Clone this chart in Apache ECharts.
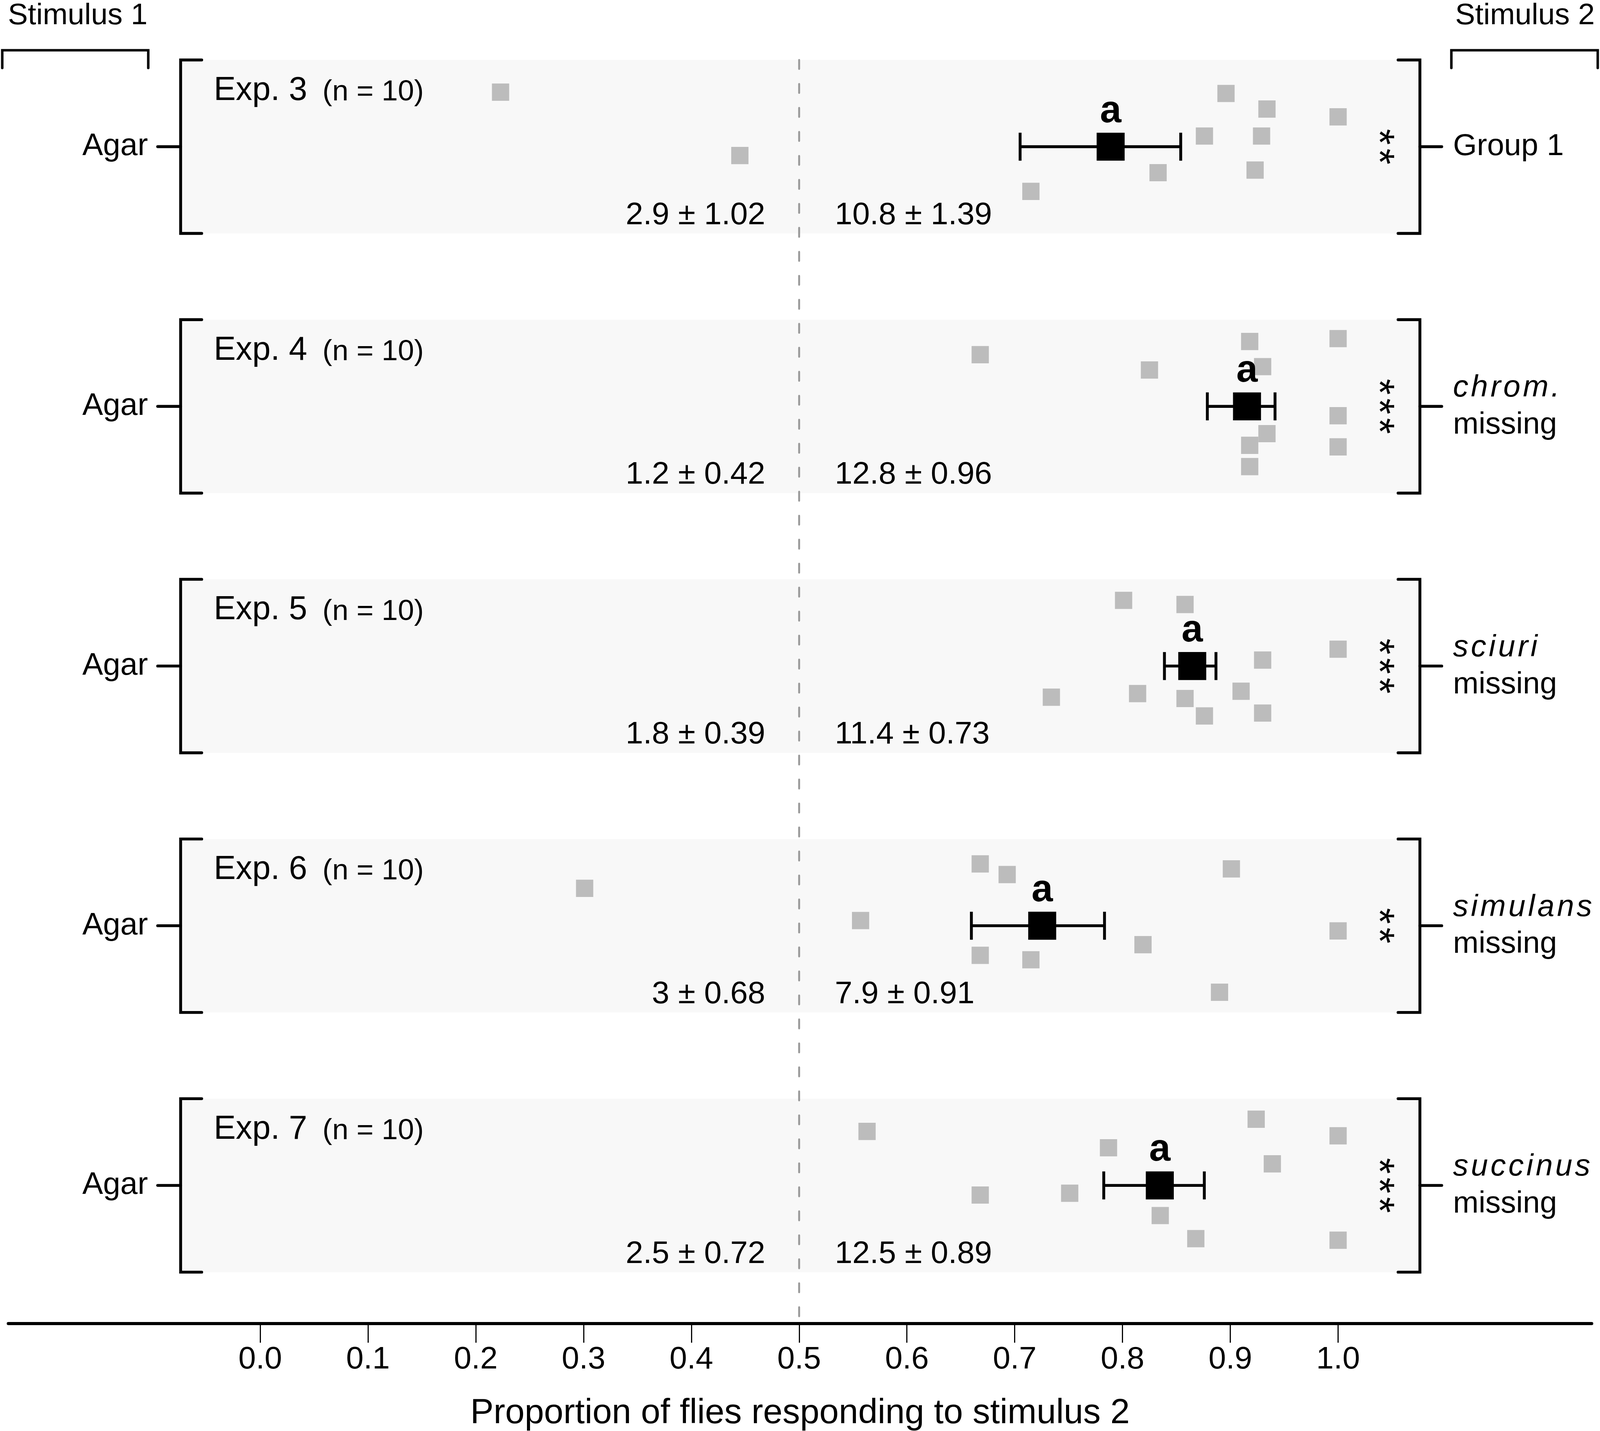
<!DOCTYPE html>
<html>
<head>
<meta charset="utf-8">
<title>Proportion of flies responding to stimulus 2</title>
<script src="https://cdn.jsdelivr.net/npm/echarts@6/dist/echarts.min.js"></script>
<style>
  html, body { margin: 0; padding: 0; background: #fff; overflow: hidden; }
  #chart { width: 100vw; height: 100vh; }
</style>
</head>
<body>
<div id="chart"></div>
<script>
// one panel per experiment, top to bottom
var expLabels = ['Exp. 3', 'Exp. 4', 'Exp. 5', 'Exp. 6', 'Exp. 7'];
var nLabels = ['(n = 10)', '(n = 10)', '(n = 10)', '(n = 10)', '(n = 10)'];
var stim1Labels = ['Agar', 'Agar', 'Agar', 'Agar', 'Agar'];
var stim2Line1 = ['Group 1', 'chrom.', 'sciuri', 'simulans', 'succinus'];
var stim2Line2 = ['', 'missing', 'missing', 'missing', 'missing'];
var stim2Italic = [false, true, true, true, true];
var stars = ['**', '***', '***', '**', '***'];
var letters = ['a', 'a', 'a', 'a', 'a'];
var countStim1 = ['2.9 \u00b1 1.02', '1.2 \u00b1 0.42', '1.8 \u00b1 0.39', '3 \u00b1 0.68', '2.5 \u00b1 0.72'];
var countStim2 = ['10.8 \u00b1 1.39', '12.8 \u00b1 0.96', '11.4 \u00b1 0.73', '7.9 \u00b1 0.91', '12.5 \u00b1 0.89'];

// mean proportion and error bar ends
var meanValues = [0.789, 0.9155, 0.8647, 0.7255, 0.8346];
var errLow = [0.705, 0.8787, 0.8389, 0.6598, 0.7826];
var errHigh = [0.854, 0.9415, 0.8867, 0.7833, 0.8759];

// single replicates: proportion and vertical jitter (panel units)
var exp3X = [0.223, 0.445, 0.896, 0.934, 1.0, 0.876, 0.929, 0.923, 0.833, 0.715];
var exp3Y = [-0.210, 0.034, -0.205, -0.145, -0.115, -0.041, -0.041, 0.090, 0.100, 0.172];
var exp4X = [0.668, 0.825, 0.918, 1.0, 0.930, 1.0, 0.934, 0.918, 1.0, 0.918];
var exp4Y = [-0.199, -0.140, -0.250, -0.261, -0.153, 0.036, 0.105, 0.150, 0.156, 0.232];
var exp5X = [0.801, 0.858, 1.0, 0.930, 0.734, 0.814, 0.858, 0.910, 0.876, 0.930];
var exp5Y = [-0.253, -0.237, -0.065, -0.023, 0.120, 0.106, 0.125, 0.097, 0.192, 0.181];
var exp6X = [0.301, 0.668, 0.693, 0.901, 0.557, 1.0, 0.819, 0.668, 0.715, 0.890];
var exp6Y = [-0.144, -0.238, -0.197, -0.219, -0.020, 0.020, 0.073, 0.114, 0.131, 0.256];
var exp7X = [0.563, 0.924, 1.0, 0.787, 0.939, 0.668, 0.751, 0.835, 0.868, 1.0];
var exp7Y = [-0.208, -0.255, -0.191, -0.145, -0.083, 0.037, 0.030, 0.116, 0.205, 0.211];

var tickValues = [0, 0.1, 0.2, 0.3, 0.4, 0.5, 0.6, 0.7, 0.8, 0.9, 1.0];
var chanceLevel = 0.5;
var stimulusLabels = ['Stimulus 1', 'Stimulus 2'];
var xTitle = 'Proportion of flies responding to stimulus 2';

// layout (designed on a 4252 x 3663 page, scaled to the real one)
var FONT = '"Liberation Sans", Arial, Helvetica, sans-serif';
var X_MIN = -0.2337, X_MAX = 1.2353;
var Y_MIN = -0.334, Y_MAX = 4.532;
var PANEL_HALF = 0.334;
var PANEL_LEFT = -0.0738, PANEL_RIGHT = 1.0759;

var chart = echarts.init(document.getElementById('chart'));
var sx = chart.getWidth() / 4252;
var sy = chart.getHeight() / 3663;
var fs = (sx + sy) / 2;
function X(v) { return v * sx; }
function Y(v) { return v * sy; }
function F(v) { return v * fs; }
var LW = F(7.5);

var pointsX = [exp3X, exp4X, exp5X, exp6X, exp7X];
var pointsY = [exp3Y, exp4Y, exp5Y, exp6Y, exp7Y];
var pointData = [];
pointsX.forEach(function (xs, i) {
  xs.forEach(function (x, k) {
    pointData.push([x, i + pointsY[i][k]]);
  });
});

var panelData = expLabels.map(function (d, i) { return [chanceLevel, i]; });
var meanData = meanValues.map(function (m, i) { return [m, i, errLow[i], errHigh[i]]; });

function stroke(w, cap) {
  return { stroke: '#000', lineWidth: w || LW, lineCap: cap || 'round', lineJoin: 'miter', fill: null };
}

function txt(text, x, y, size, align, extra) {
  var s = {
    text: text, x: x, y: y, fill: '#000', fontSize: F(size), fontFamily: FONT,
    align: align, verticalAlign: 'middle'
  };
  for (var k in (extra || {})) s[k] = extra[k];
  return { type: 'text', style: s };
}

function spaced(s) {
  return s.split('').join('\u200a');
}

function renderPanel(params, api) {
  var i = api.value(1);
  var c = api.coord([0, i])[1];
  var top = api.coord([0, i - PANEL_HALF])[1];
  var bottom = api.coord([0, i + PANEL_HALF])[1];
  var xL = api.coord([PANEL_LEFT, i])[0];
  var xR = api.coord([PANEL_RIGHT, i])[0];
  var xMid = api.coord([chanceLevel, i])[0];
  var kids = [
    { type: 'rect', shape: { x: xL, y: top, width: xR - xL, height: bottom - top }, style: { fill: '#f8f8f8' } },
    { type: 'polyline', shape: { points: [[xL + X(56), top], [xL, top], [xL, bottom], [xL + X(56), bottom]] }, style: stroke() },
    { type: 'line', shape: { x1: xL - X(61), y1: c, x2: xL, y2: c }, style: stroke() },
    { type: 'polyline', shape: { points: [[xR - X(58), top], [xR, top], [xR, bottom], [xR - X(58), bottom]] }, style: stroke() },
    { type: 'line', shape: { x1: xR, y1: c, x2: xR + X(58), y2: c }, style: stroke() },
    txt(stim1Labels[i], xL - X(87), c, 81, 'right'),
    txt(expLabels[i], xL + X(88), c - Y(143), 86, 'left'),
    txt(nLabels[i], xL + X(377), c - Y(139), 76, 'left'),
    txt(countStim1[i], xMid - X(90), c + Y(176), 82, 'right'),
    txt(countStim2[i], xMid + X(95), c + Y(176), 82, 'left')
  ];
  if (stim2Line2[i]) {
    kids.push(txt(stim2Italic[i] ? spaced(stim2Line1[i]) : stim2Line1[i], xR + X(88), c - Y(47), 80, 'left',
      { fontStyle: stim2Italic[i] ? 'italic' : 'normal' }));
    kids.push(txt(stim2Line2[i], xR + X(88), c + Y(48), 80, 'left'));
  } else {
    kids.push(txt(stim2Line1[i], xR + X(88), c, 80, 'left'));
  }
  // significance stars, turned a quarter clockwise
  kids.push({
    type: 'text', x: xR - X(114), y: c, rotation: -Math.PI / 2,
    style: {
      text: spaced(stars[i]), x: 0, y: 0, fill: '#000', fontSize: F(108), fontFamily: FONT,
      align: 'center', verticalAlign: 'middle'
    }
  });
  return { type: 'group', children: kids };
}

function renderMean(params, api) {
  var i = api.value(1);
  var p = api.coord([api.value(0), i]);
  var lo = api.coord([api.value(2), i])[0];
  var hi = api.coord([api.value(3), i])[0];
  var h = F(36.5);
  return {
    type: 'group',
    children: [
      { type: 'line', shape: { x1: lo, y1: p[1], x2: hi, y2: p[1] }, style: stroke(LW, 'butt') },
      { type: 'line', shape: { x1: lo, y1: p[1] - h, x2: lo, y2: p[1] + h }, style: stroke(LW, 'butt') },
      { type: 'line', shape: { x1: hi, y1: p[1] - h, x2: hi, y2: p[1] + h }, style: stroke(LW, 'butt') },
      { type: 'rect', shape: { x: p[0] - h, y: p[1] - h, width: 2 * h, height: 2 * h }, style: { fill: '#000' } },
      txt(letters[params.dataIndex], p[0], p[1] - Y(90), 100, 'center', { fontWeight: 'bold' })
    ]
  };
}

var bracketStyle = { stroke: '#000', lineWidth: F(6.5), lineCap: 'round', fill: null };

var option = {
  backgroundColor: '#ffffff',
  animation: false,
  grid: { left: X(22), right: X(22), top: Y(153.5), bottom: Y(275), outerBoundsMode: 'none' },
  xAxis: {
    type: 'value',
    min: X_MIN,
    max: X_MAX,
    splitLine: { show: false },
    axisLine: { show: true, onZero: false, lineStyle: { color: '#000', width: F(8) } },
    axisTick: { show: true, length: Y(49), lineStyle: { color: '#000', width: F(3) }, customValues: tickValues },
    axisLabel: {
      customValues: tickValues,
      formatter: function (v) { return v.toFixed(1); },
      margin: Y(53), fontSize: F(82), color: '#000', fontFamily: FONT
    },
    name: xTitle,
    nameLocation: 'middle',
    nameGap: Y(186),
    nameTextStyle: { fontSize: F(91), color: '#000', fontFamily: FONT }
  },
  yAxis: {
    type: 'value',
    inverse: true,
    min: Y_MIN,
    max: Y_MAX,
    show: false
  },
  graphic: [
    { type: 'text', x: X(21), y: Y(41), style: { text: stimulusLabels[0], fontSize: F(78), fontFamily: FONT, fill: '#000', align: 'left', verticalAlign: 'middle' } },
    { type: 'text', x: X(3867), y: Y(41), style: { text: stimulusLabels[1], fontSize: F(78), fontFamily: FONT, fill: '#000', align: 'left', verticalAlign: 'middle' } },
    { type: 'polyline', shape: { points: [[X(6), Y(174)], [X(6), Y(128.6)], [X(394), Y(128.6)], [X(394), Y(174)]] }, style: bracketStyle },
    { type: 'polyline', shape: { points: [[X(3857), Y(174)], [X(3857), Y(128.6)], [X(4246), Y(128.6)], [X(4246), Y(174)]] }, style: bracketStyle }
  ],
  series: [
    {
      type: 'custom',
      name: 'panels',
      z: 1,
      silent: true,
      clip: false,
      renderItem: renderPanel,
      data: panelData
    },
    {
      type: 'line',
      name: 'chance',
      z: 2,
      silent: true,
      symbol: 'none',
      lineStyle: { color: '#999999', width: F(5), type: [Y(23), Y(38.4)], cap: 'round' },
      data: [[chanceLevel, Y_MIN], [chanceLevel, Y_MAX]]
    },
    {
      type: 'scatter',
      name: 'replicates',
      z: 3,
      symbol: 'rect',
      symbolSize: F(45),
      itemStyle: { color: '#bcbcbc', opacity: 1 },
      data: pointData
    },
    {
      type: 'custom',
      name: 'mean',
      z: 4,
      clip: false,
      renderItem: renderMean,
      data: meanData
    }
  ]
};

chart.setOption(option);
</script>
</body>
</html>
